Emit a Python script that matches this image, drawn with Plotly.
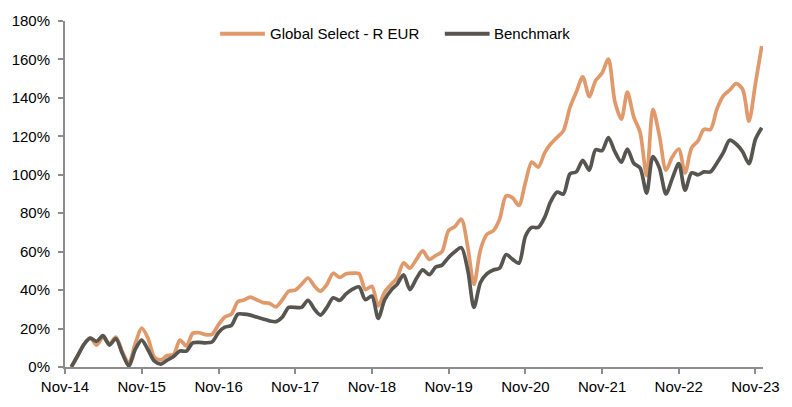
import plotly.graph_objects as go
import pandas as pd

# Monthly dates, Dec-14 .. Dec-23
dates = pd.date_range("2014-12-01", "2023-12-01", freq="MS")

fund = [0, 6, 12, 15, 11.4, 15.5, 12, 15.6, 8, 2,
        12, 20.2, 15, 5, 3.7, 6, 6.5, 14, 11, 17.5,
        17.8, 16.8, 17, 22, 26, 27.5, 34, 34.8, 36.4, 35,
        33.5, 33.2, 31.3, 35, 39.4, 40, 43, 46.3, 42, 39.4,
        43, 48.8, 46.6, 48.5, 48.8, 48.5, 40.3, 42, 31.8, 39,
        43, 46.3, 54.2, 51.4, 56, 60.4, 56, 58, 60, 70.9,
        73, 76.9, 62, 43, 61, 69, 70.9, 76.9, 89, 88,
        84, 96, 106.6, 104, 111.5, 116, 119.5, 123, 135, 143,
        150.9, 140.7, 149, 152.9, 160.2, 138, 129, 143, 130, 122,
        99.5, 134, 120.2, 102.4, 109.2, 113.4, 101, 114, 117.7, 123.6,
        123.6, 134, 141, 144, 147.4, 144.5, 127.9, 147.4, 167]

bench = [0, 6, 12, 15, 13.4, 16.3, 11.4, 14.8, 7, 0.5,
         9, 14, 9, 3, 1.5, 3.5, 5.5, 8.3, 8.3, 12.5,
         12.8, 12.6, 13, 18, 20.7, 21.6, 27.5, 27.5, 27, 26,
         25, 24, 23.6, 26, 31, 31, 31, 34.7, 30, 27,
         31, 36, 34.7, 38, 40.5, 41.7, 35, 36.9, 25.3, 35,
         40, 43, 48, 40.3, 46, 50.5, 48, 52, 53, 57,
         60, 62.1, 50, 31, 44, 48.5, 50.5, 51.4, 58.5, 56,
         54, 68, 72.6, 72.6, 78, 86, 91, 90, 100.5, 101.5,
         107.5, 102.4, 113, 112.6, 119.4, 112, 106.6, 113.4, 106, 103.5,
         90.5, 109.5, 103.5, 90, 98, 105.8, 92, 101, 100, 101.5,
         101.5, 106, 111.5, 118, 116, 112, 105.8, 118.5, 124.5]

series_names = ["Global Select - R EUR", "Benchmark"]
series_colors = ["#E0996B", "#57554F"]
tick_dates = pd.date_range("2014-11-01", "2023-11-01", freq="12MS")
tick_labels = [d.strftime("%b-%y") for d in tick_dates]
y_ticks = list(range(0, 181, 20))

W, H = 792, 407
ML, MR, MT, MB = 61, 29, 16, 38
PW = W - ML - MR
PH = H - MT - MB


def px_to_paper_x(px):
    return (px - ML) / PW


def px_to_paper_y(py):
    return (H - MB - py) / PH


fig = go.Figure()
for name, vals, col in zip(series_names, [fund, bench], series_colors):
    fig.add_trace(go.Scatter(x=dates, y=vals, name=name, mode="lines",
                             line=dict(color=col, width=3.7, shape="spline", smoothing=0.8),
                             showlegend=False))

# custom legend (line key + label)
legend_y = px_to_paper_y(29)
legend_keys = [(217, 262, 265), (443, 488, 490)]
for (x0, x1, xt), name, col in zip(legend_keys, series_names, series_colors):
    fig.add_shape(type="line", xref="paper", yref="paper",
                  x0=px_to_paper_x(x0), x1=px_to_paper_x(x1), y0=legend_y, y1=legend_y,
                  line=dict(color=col, width=4))
    fig.add_annotation(xref="paper", yref="paper", x=px_to_paper_x(xt), y=legend_y,
                       text=name, showarrow=False, xanchor="left", yanchor="middle",
                       font=dict(size=15, color="#000000"))

axis_col = "#8C8C8C"
fig.update_layout(
    width=W, height=H,
    margin=dict(l=ML, r=MR, t=MT, b=MB),
    plot_bgcolor="white", paper_bgcolor="white",
    font=dict(family="Liberation Sans, Arial, sans-serif", size=15, color="#000000"),
    showlegend=False,
)
fig.update_xaxes(
    type="date", range=["2014-11-01", "2023-12-07"],
    tickvals=tick_dates, ticktext=tick_labels,
    showgrid=False, zeroline=False,
    showline=True, linecolor=axis_col, linewidth=2,
    ticks="outside", ticklen=5, tickcolor=axis_col, tickwidth=2,
)
fig.update_yaxes(
    range=[0, 180], tickvals=y_ticks, ticktext=[f"{v}%" for v in y_ticks],
    showgrid=False, zeroline=False,
    showline=True, linecolor=axis_col, linewidth=2,
    ticks="outside", ticklen=5, tickcolor=axis_col, tickwidth=2,
    ticklabelstandoff=5,
)

fig.write_html("out.html", config={"displayModeBar": False},
               post_script="document.body.style.margin='0';")
